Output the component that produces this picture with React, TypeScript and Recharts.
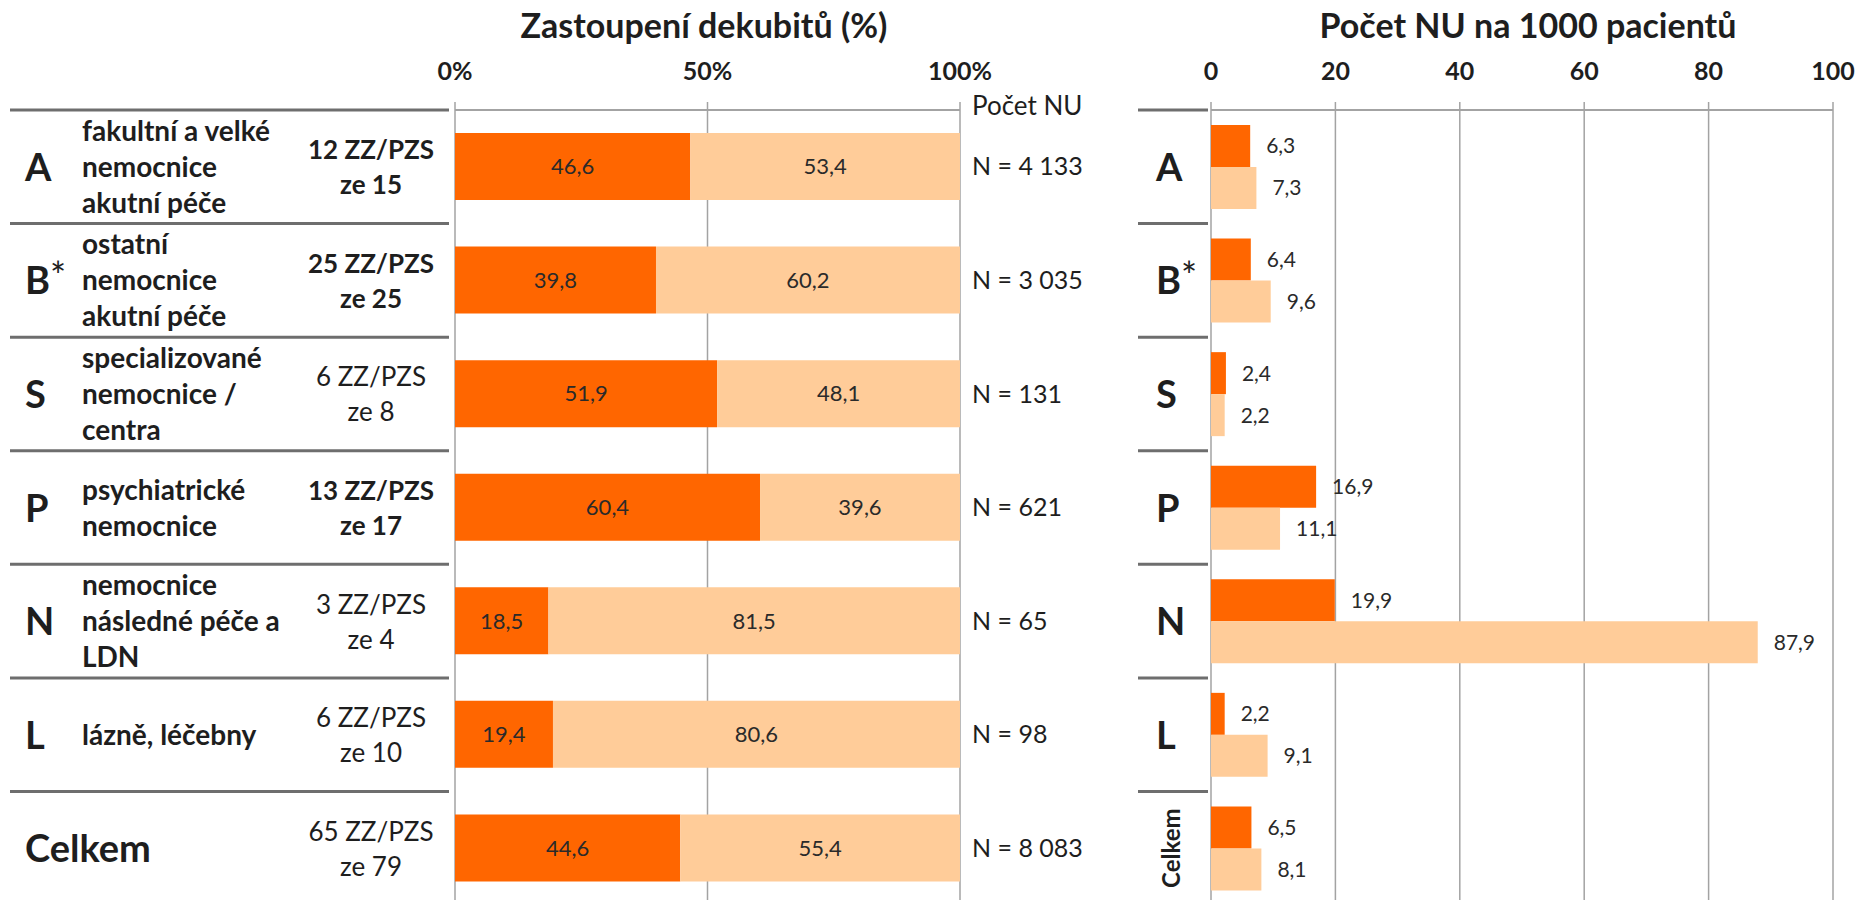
import React from 'react';
import { BarChart, Bar, XAxis, YAxis, CartesianGrid, LabelList } from 'recharts';

// kategorie ZZ
const codes = ['A', 'B*', 'S', 'P', 'N', 'L', 'Celkem'];
const descriptions = [
  ['fakultní a velké', 'nemocnice', 'akutní péče'],
  ['ostatní', 'nemocnice', 'akutní péče'],
  ['specializované', 'nemocnice /', 'centra'],
  ['psychiatrické', 'nemocnice'],
  ['nemocnice', 'následné péče a', 'LDN'],
  ['lázně, léčebny'],
  [],
];
const facilities = [
  ['12 ZZ/PZS', 'ze 15'],
  ['25 ZZ/PZS', 'ze 25'],
  ['6 ZZ/PZS', 'ze 8'],
  ['13 ZZ/PZS', 'ze 17'],
  ['3 ZZ/PZS', 'ze 4'],
  ['6 ZZ/PZS', 'ze 10'],
  ['65 ZZ/PZS', 'ze 79'],
];
const facilitiesBold = [true, true, false, true, false, false, false];

// zastoupení dekubitů (%)
const shareDark = [46.6, 39.8, 51.9, 60.4, 18.5, 19.4, 44.6];
const shareLight = [53.4, 60.2, 48.1, 39.6, 81.5, 80.6, 55.4];
const countLabels = ['N = 4 133', 'N = 3 035', 'N = 131', 'N = 621', 'N = 65', 'N = 98', 'N = 8 083'];
const shareTicks = [0, 50, 100];

// počet NU na 1000 pacientů
const rateDark = [6.3, 6.4, 2.4, 16.9, 19.9, 2.2, 6.5];
const rateLight = [7.3, 9.6, 2.2, 11.1, 87.9, 9.1, 8.1];
const rateTicks = [0, 20, 40, 60, 80, 100];

const DARK = '#FF6600';
const LIGHT = '#FFCC99';
const GRID = '#A3A3A3';
const SEP = '#6E6E6E';
const TEXT = '#1E1E1E';
const ROW = 113.5;

const shareData = codes.map((code, i) => ({
  code,
  dark: shareDark[i],
  light: shareLight[i],
  count: countLabels[i],
}));

const rateData = codes.map((code, i) => ({
  code,
  dark: rateDark[i],
  light: rateLight[i],
}));

const fmt = (v: any) => Number(v).toFixed(1).replace('.', ',');

function RowLabel(props: any) {
  const { y, payload } = props;
  const i = codes.indexOf(payload.value);
  const desc = descriptions[i];
  const fac = facilities[i];
  const code = payload.value as string;
  return (
    <g>
      <line x1={10} x2={449} y1={y - ROW / 2} y2={y - ROW / 2} stroke={SEP} strokeWidth={3} />
      <text x={25} y={y + 14} fontSize={38} fontWeight={700} fill={TEXT}>
        {code === 'B*' ? (
          <>
            B<tspan fontWeight={400} dy={-4}>*</tspan>
          </>
        ) : (
          code
        )}
      </text>
      {desc.map((line, k) => (
        <text
          key={k}
          x={82}
          y={y + 10 + (k - (desc.length - 1) / 2) * 36}
          fontSize={28}
          fontWeight={700}
          fill={TEXT}
        >
          {line}
        </text>
      ))}
      {fac.map((line, k) => (
        <text
          key={k}
          x={371}
          y={y + 10 + (k - 0.5) * 35}
          textAnchor="middle"
          fontSize={26}
          fontWeight={facilitiesBold[i] ? 700 : 400}
          fill={TEXT}
        >
          {line}
        </text>
      ))}
    </g>
  );
}

function RateRowLabel(props: any) {
  const { y, payload } = props;
  const code = payload.value as string;
  return (
    <g>
      <line x1={38} x2={108} y1={y - ROW / 2} y2={y - ROW / 2} stroke={SEP} strokeWidth={3} />
      {code === 'Celkem' ? (
        <text
          x={71}
          y={y}
          transform={`rotate(-90, 71, ${y})`}
          textAnchor="middle"
          dominantBaseline="central"
          fontSize={24}
          fontWeight={700}
          fill={TEXT}
        >
          {code}
        </text>
      ) : (
        <text x={56} y={y + 14} fontSize={38} fontWeight={700} fill={TEXT}>
          {code === 'B*' ? (
            <>
              B<tspan fontWeight={400} dy={-4}>*</tspan>
            </>
          ) : (
            code
          )}
        </text>
      )}
    </g>
  );
}

export default function App() {
  return (
    <div
      style={{
        position: 'absolute',
        left: 0,
        top: 0,
        width: 1861,
        height: 900,
        overflow: 'hidden',
        background: '#fff',
        fontFamily: 'Lato, sans-serif',
      }}
    >
      <div style={{ position: 'absolute', left: 0, top: 0 }}>
        <BarChart
          width={1100}
          height={905}
          data={shareData}
          layout="vertical"
          barSize={67}
          margin={{ top: 80, right: 140, bottom: 0, left: 0 }}
        >
          <CartesianGrid horizontal={false} stroke={GRID} strokeWidth={1.5} />
          <XAxis
            type="number"
            orientation="top"
            domain={[0, 100]}
            ticks={shareTicks}
            tickFormatter={(v) => `${v}%`}
            height={30}
            axisLine={{ stroke: GRID, strokeWidth: 2 }}
            tickLine={{ stroke: GRID, strokeWidth: 1.5 }}
            tickSize={8}
            tickMargin={22}
            tick={{ fontSize: 25, fontWeight: 700, fill: TEXT }}
          />
          <YAxis
            type="category"
            dataKey="code"
            width={455}
            axisLine={false}
            tickLine={false}
            interval={0}
            tick={(p: any) => <RowLabel {...p} />}
          />
          <Bar dataKey="dark" stackId="s" fill={DARK} isAnimationActive={false}>
            <LabelList dataKey="dark" position="center" formatter={fmt} fill="#2a2a2a" fontSize={22} />
          </Bar>
          <Bar dataKey="light" stackId="s" fill={LIGHT} isAnimationActive={false}>
            <LabelList dataKey="light" position="center" formatter={fmt} fill="#2a2a2a" fontSize={22} />
            <LabelList dataKey="count" position="right" offset={12} fill={TEXT} fontSize={25} />
          </Bar>
        </BarChart>
      </div>

      <div style={{ position: 'absolute', left: 1100, top: 0 }}>
        <BarChart
          width={761}
          height={905}
          data={rateData}
          layout="vertical"
          barSize={42}
          barGap={0}
          margin={{ top: 80, right: 28, bottom: 0, left: 0 }}
        >
          <CartesianGrid horizontal={false} stroke={GRID} strokeWidth={1.5} />
          <XAxis
            type="number"
            orientation="top"
            domain={[0, 100]}
            ticks={rateTicks}
            height={30}
            axisLine={{ stroke: GRID, strokeWidth: 2 }}
            tickLine={{ stroke: GRID, strokeWidth: 1.5 }}
            tickSize={8}
            tickMargin={22}
            tick={{ fontSize: 25, fontWeight: 700, fill: TEXT }}
          />
          <YAxis
            type="category"
            dataKey="code"
            width={111}
            axisLine={false}
            tickLine={false}
            interval={0}
            tick={(p: any) => <RateRowLabel {...p} />}
          />
          <Bar dataKey="dark" fill={DARK} isAnimationActive={false}>
            <LabelList dataKey="dark" position="right" offset={16} formatter={fmt} fill="#2a2a2a" fontSize={21} />
          </Bar>
          <Bar dataKey="light" fill={LIGHT} isAnimationActive={false}>
            <LabelList dataKey="light" position="right" offset={16} formatter={fmt} fill="#2a2a2a" fontSize={21} />
          </Bar>
        </BarChart>
      </div>

      <svg
        width={1861}
        height={900}
        style={{ position: 'absolute', left: 0, top: 0, pointerEvents: 'none' }}
      >
        <text x={704} y={38} textAnchor="middle" fontSize={34} fontWeight={700} fill={TEXT}>
          Zastoupení dekubitů (%)
        </text>
        <text x={1528} y={38} textAnchor="middle" fontSize={34} fontWeight={700} fill={TEXT}>
          Počet NU na 1000 pacientů
        </text>
        <text x={972} y={115} fontSize={26} fill={TEXT}>
          Počet NU
        </text>
      </svg>
    </div>
  );
}
